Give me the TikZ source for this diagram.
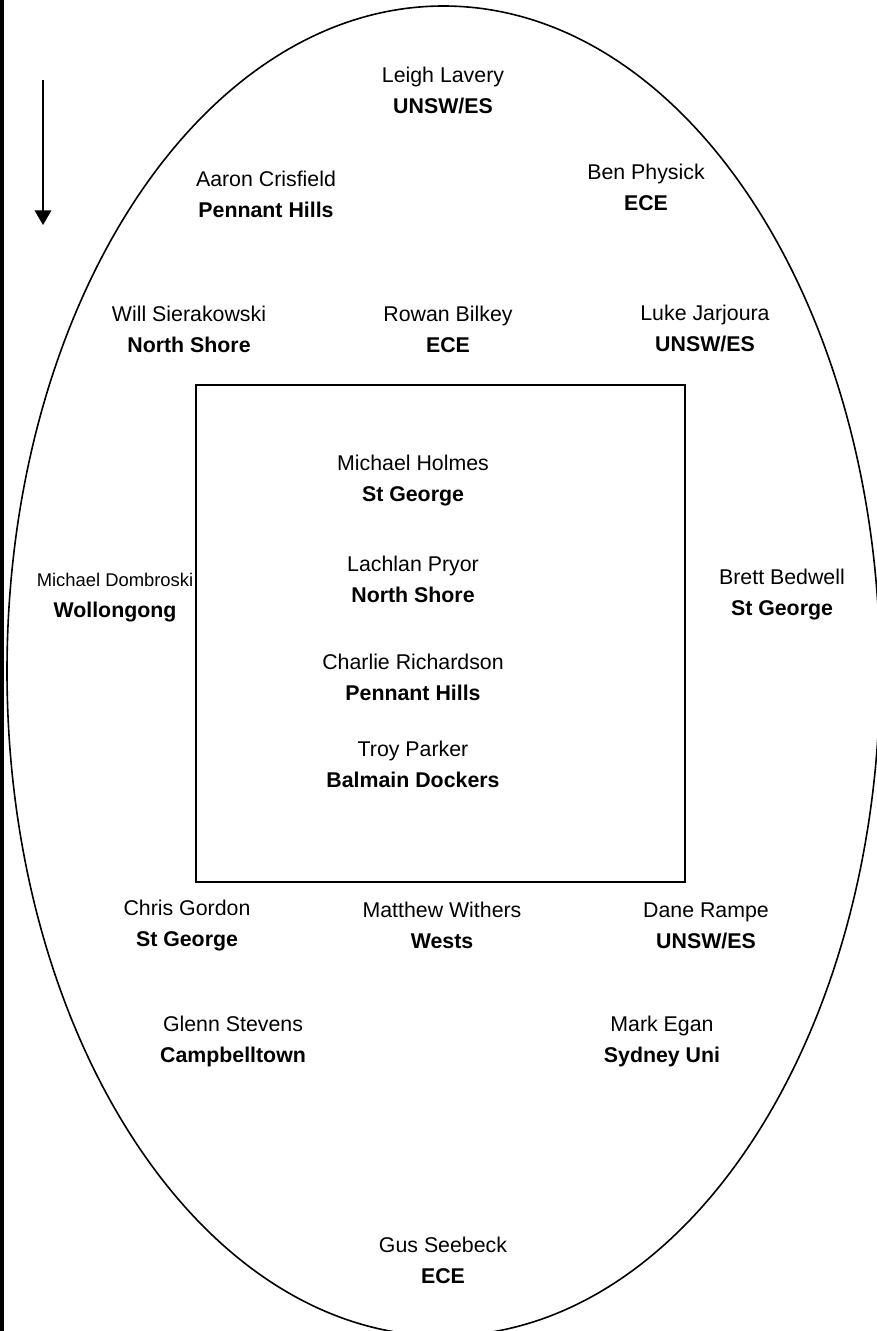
\documentclass[tikz,border=0pt]{standalone}
\usepackage{fontspec}
\setmainfont{Liberation Sans}
\usetikzlibrary{arrows.meta}
\tikzset{
  player/.style={align=center, inner sep=0pt, font=\fontsize{16}{23.25}\selectfont},
  smallplayer/.style={align=center, inner sep=0pt, font=\fontsize{13.8}{23.25}\selectfont},
  outline/.style={line width=1.2pt, draw=black},
  boxline/.style={line width=1.3pt, draw=black},
}
\begin{document}
\begin{tikzpicture}[x=0.75pt,y=-0.75pt]
\useasboundingbox (0,0) rectangle (877,1331);
\fill[black] (0,0) rectangle (4,1331);
% field
\begin{scope}
\clip (0,0) rectangle (877,1331);
\draw[outline] (443.5,671) ellipse [x radius=436.5, y radius=665];
\end{scope}
\draw[boxline] (196,385) rectangle (685,882);
% arrow
\coordinate (astart) at (43,80);
\coordinate (aend) at (43,225);
\draw[line width=1.1pt, -{Triangle[width=12.5pt,length=11pt]}] (astart) -- (aend);
% players
\node[player] (leigh) at (443,90) {Leigh Lavery\\\textbf{UNSW/ES}};
\node[player] (aaron) at (266,194) {Aaron Crisfield\\\textbf{Pennant Hills}};
\node[player] (ben) at (646,187) {Ben Physick\\\textbf{ECE}};
\node[player] (will) at (189,329) {Will Sierakowski\\\textbf{North Shore}};
\node[player] (rowan) at (448,329) {Rowan Bilkey\\\textbf{ECE}};
\node[player] (luke) at (705,328) {Luke Jarjoura\\\textbf{UNSW/ES}};
\node[player] (holmes) at (413,481) {Michael Holmes\\\textbf{St George}};
\node[player] (pryor) at (413,579) {Lachlan Pryor\\\textbf{North Shore}};
\node[player] (charlie) at (413,677.5) {Charlie Richardson\\\textbf{Pennant Hills}};
\node[player] (troy) at (413,764.5) {Troy Parker\\\textbf{Balmain Dockers}};
\node[smallplayer] (dombroski) at (115,598) {Michael Dombroski\\\fontsize{16}{23.25}\selectfont\textbf{Wollongong}};
\node[player] (brett) at (782,595) {Brett Bedwell\\\textbf{St George}};
\node[player] (chris) at (187,925.5) {Chris Gordon\\\textbf{St George}};
\node[player] (matthew) at (442,925.5) {Matthew Withers\\\textbf{Wests}};
\node[player] (dane) at (706,925.5) {Dane Rampe\\\textbf{UNSW/ES}};
\node[player] (glenn) at (233,1041.5) {Glenn Stevens\\\textbf{Campbelltown}};
\node[player] (mark) at (662,1041.5) {Mark Egan\\\textbf{Sydney Uni}};
\node[player] (gus) at (443,1260) {Gus Seebeck\\\textbf{ECE}};
\end{tikzpicture}
\end{document}
